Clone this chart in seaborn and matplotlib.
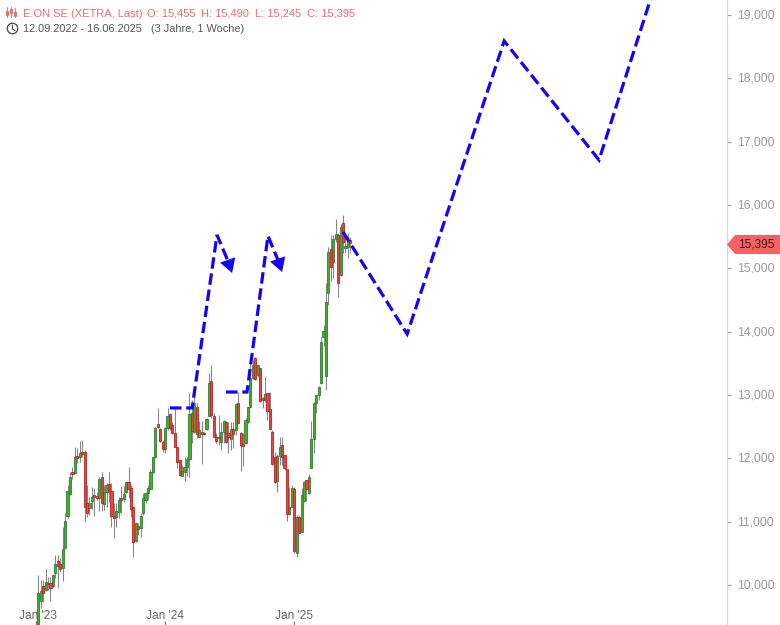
"""E.ON SE weekly candles with a hand-drawn forecast path."""

import matplotlib.pyplot as plt
import numpy as np
import pandas as pd
import seaborn as sns
from matplotlib.lines import Line2D
from matplotlib.patches import Ellipse, Polygon, Rectangle
from matplotlib.ticker import FuncFormatter
from matplotlib.transforms import ScaledTranslation

opens = [9350, 9752, 9984, 9921, 10037, 10026, 9989, 10184, 10384, 10337, 10263, 10579, 11094, 11431, 11779,
         11773, 12042, 12026, 12094, 12105, 11289, 11210, 11326, 11416, 11400, 11368, 11710, 11273, 11463, 11589,
         11479, 11084, 11068, 11147, 11368, 11352, 11473, 11621, 11537, 11237, 10700, 10926, 10905, 11131, 11342,
         11447, 11521, 11789, 12016, 12537, 12458, 12264, 12148, 12474, 12700, 12522, 12395, 12174, 11974, 11727,
         11779, 11858, 11985, 12711, 12411, 12806, 12343, 12411, 12400, 12458, 12674, 13227, 12674, 12343, 12343,
         12253, 12422, 12569, 12395, 12300, 12458, 12448, 12869, 12395, 12222, 12237, 12569, 12806, 13264, 13579,
         13316, 13421, 12948, 12922, 13027, 12779, 12422, 12016, 11643, 12037, 12205, 12048, 11826, 11116, 11237,
         11511, 10500, 11069, 10842, 11326, 11658, 11448, 11853, 12300, 12879, 13000, 13184, 13910, 13300, 14605,
         15300, 15105, 15458, 15526, 14895, 15710, 15316, 15331, 15455]
closes = [9868, 9910, 9879, 10052, 10016, 9958, 10152, 10326, 10305, 10247, 10563, 11016, 11489, 11700, 11747,
          12026, 12000, 12089, 12063, 11237, 11131, 11300, 11384, 11395, 11368, 11668, 11289, 11473, 11573, 11489,
          11094, 11063, 11173, 11342, 11342, 11437, 11631, 11510, 11194, 10684, 10973, 10889, 11094, 11368, 11447,
          11537, 11779, 12016, 12473, 12500, 12279, 12143, 12474, 12669, 12474, 12395, 12185, 11948, 11743, 11800,
          11858, 11985, 12700, 12437, 12879, 12379, 12448, 12379, 12390, 12616, 13185, 12685, 12343, 12269, 12316,
          12422, 12595, 12253, 12343, 12458, 12379, 12853, 12553, 12216, 12200, 12606, 12806, 13264, 13474, 13248,
          13474, 12906, 12922, 13011, 12748, 12458, 11906, 11622, 12037, 12174, 12027, 11842, 11116, 11237, 11527,
          10542, 11069, 10827, 11421, 11621, 11511, 11711, 12300, 12869, 12995, 13132, 13842, 14016, 14474, 15253,
          15016, 15458, 15542, 14774, 15647, 15421, 15353, 15447, 15395]
highs = [10158, 10079, 10079, 10247, 10131, 10131, 10173, 10473, 10473, 10421, 10921, 11131, 11579, 11789, 11868,
         12184, 12158, 12279, 12289, 12131, 11579, 11395, 11552, 11526, 11473, 11700, 11789, 11579, 11605, 11789,
         11605, 11289, 11289, 11395, 11568, 11568, 11647, 11858, 11579, 11247, 10999, 10973, 11131, 11447, 11473,
         11579, 11826, 12026, 12500, 12790, 12474, 12290, 12490, 12790, 12711, 12580, 12774, 12185, 11974, 11895,
         12027, 12027, 13027, 12921, 13027, 12879, 12595, 12595, 12422, 12632, 13343, 13474, 12711, 12395, 12685,
         12580, 12606, 12590, 12580, 12580, 12580, 12869, 13053, 12422, 12395, 12632, 12816, 13527, 13553, 13606,
         13474, 13421, 12974, 13290, 13027, 13053, 12448, 12106, 12069, 12332, 12342, 12053, 11826, 11553, 11579,
         11553, 11105, 11105, 11527, 11642, 11658, 11753, 12595, 12895, 13000, 13142, 13921, 14105, 14774, 15332,
         15526, 15526, 15774, 15553, 15700, 15842, 15553, 15553, 15490]
lows = [9300, 9631, 9737, 9910, 9921, 9747, 9973, 10105, 9958, 10210, 10063, 10563, 11052, 11421, 11668,
        11763, 11921, 11947, 12026, 10999, 11079, 11105, 11194, 11089, 11342, 11173, 11173, 11184, 11237, 11316,
        10921, 10737, 10910, 11052, 11131, 11316, 11458, 11368, 11079, 10437, 10684, 10789, 10763, 11105, 11289,
        11342, 11510, 11763, 12000, 12474, 12264, 12106, 12080, 12448, 12448, 12385, 12174, 11843, 11722, 11722,
        11648, 11722, 11711, 12237, 12395, 12316, 12332, 11911, 12369, 12448, 12669, 12632, 12332, 12248, 12211,
        12132, 12248, 12237, 12080, 12132, 12158, 12369, 12543, 11806, 11885, 12222, 12553, 12790, 13248, 13237,
        13290, 12895, 12790, 12895, 12606, 12448, 11895, 11606, 11474, 11895, 11895, 11816, 11016, 11105, 11226,
        10500, 10437, 10816, 10832, 11316, 11332, 11437, 11842, 12079, 12721, 12921, 13174, 13774, 13079, 14421,
        14805, 14842, 15421, 14553, 14879, 15237, 15237, 15158, 15245]

price_ticks = [10000, 11000, 12000, 13000, 14000, 15000, 16000, 17000, 18000, 19000]
week_ticks = [-1, 52, 105]
week_labels = ["Jan '23", "Jan '24", "Jan '25"]

forecast_x = [125.0, 151.3, 191.1, 230.0, 253.0]
forecast_y = [15574, 13963, 18590, 16711, 19474]
swing_a_x = [54.0, 63.1, 73.3, 77.8]
swing_a_y = [12795, 12795, 15527, 15116]
swing_a_tip = (79.5, 14926)
swing_b_x = [77.0, 85.6, 94.2, 98.3]
swing_b_y = [13047, 13047, 15511, 15132]
swing_b_tip = (100.0, 14942)

GREEN, GREEN_EDGE = "#43b02a", "#2f7d2f"
RED, RED_EDGE = "#f04444", "#b52222"
BLUE = "#1400ff"
W, H = 780, 625


def px(x, y):
    return x / W, 1 - y / H


def main() -> None:
    sns.set_theme(style="white")
    plt.rcParams["font.family"] = ["Liberation Sans", "DejaVu Sans"]

    df = pd.DataFrame({"open": opens, "close": closes, "high": highs, "low": lows})
    df["week"] = np.arange(len(df))
    df["up"] = df["close"] >= df["open"]

    fig = plt.figure(figsize=(W / 100, H / 100), dpi=100)
    ax = fig.add_axes([0, 0, 727 / W, 1])

    ax.vlines(df["week"], df["low"], df["high"], color="#858585", linewidth=0.75, zorder=2)
    for up, fill, edge in [(True, GREEN, GREEN_EDGE), (False, RED, RED_EDGE)]:
        part = df[df["up"] == up]
        ax.bar(part["week"], (part["close"] - part["open"]).abs(), bottom=part[["open", "close"]].min(axis=1),
               width=0.88, color=fill, edgecolor=edge, linewidth=0.6, zorder=3)

    # the hand-drawn paths, all dashed the same way
    for xs, ys in [(forecast_x, forecast_y), (swing_a_x, swing_a_y), (swing_b_x, swing_b_y)]:
        sns.lineplot(x=xs, y=ys, sort=False, estimator=None, color=BLUE, linewidth=2.3, ax=ax, legend=False,
                     linestyle=(0, (3.6, 1.5)), dash_capstyle="butt", dash_joinstyle="miter", zorder=4)
    for xs, ys, tip in [(swing_a_x, swing_a_y, swing_a_tip), (swing_b_x, swing_b_y, swing_b_tip)]:
        ax.annotate("", xy=tip, xytext=(xs[-1], ys[-1]),
                    arrowprops=dict(arrowstyle="-|>,head_length=0.62,head_width=0.36", mutation_scale=16,
                                    color=BLUE, lw=0, shrinkA=0, shrinkB=0), zorder=4)

    ax.set_xlim(-15.71, 282.5)
    ax.set_ylim(9368, 19237)
    ax.set_axisbelow(True)
    # despine switches the right ticks off again, so it goes before tick_params
    sns.despine(ax=ax, left=True, top=True, bottom=True, right=False)
    ax.spines["right"].set_color("#d6d6d6")
    ax.spines["right"].set_linewidth(0.8)

    ax.yaxis.tick_right()
    ax.set_yticks(price_ticks)
    ax.yaxis.set_major_formatter(FuncFormatter(lambda v, _: f"{v:,.0f}"))
    ax.tick_params(axis="y", right=True, left=False, direction="out", length=3, width=0.8, color="#9a9a9a",
                   labelcolor="#999999", labelsize=8.7, pad=4.1)
    ax.set_xticks(week_ticks, week_labels)
    ax.tick_params(axis="x", bottom=True, direction="in", length=3, width=0.8, color="#777777",
                   labelcolor="#666666", labelsize=8.6, pad=-11)
    up_1px = ScaledTranslation(0, 1 / 100, fig.dpi_scale_trans)
    for lab in ax.get_yticklabels():
        lab.set_transform(lab.get_transform() + up_1px)
    first = ax.get_xticklabels()[0]
    first.set_transform(first.get_transform() + ScaledTranslation(2.5 / 100, 0, fig.dpi_scale_trans))

    # last price tag
    fig.add_artist(Polygon([px(727, 244.5), px(735, 235), px(780, 235), px(780, 254), px(735, 254)],
                           closed=True, transform=fig.transFigure, facecolor="#f46363", edgecolor="none"))
    fig.text(*px(774, 244.5), "15,395", ha="right", va="center", fontsize=8.6, color="#4a1414")

    # header
    head = "#f26a6a"
    for x, text in [(23, "E.ON SE (XETRA, Last)"), (147, "O: 15,455"), (201, "H: 15,490"),
                    (255, "L: 15,245"), (307, "C: 15,395")]:
        fig.text(*px(x, 13), text, ha="left", va="center_baseline", fontsize=8.0, color=head)
    for x, text in [(23, "12.09.2022 - 16.06.2025"), (151, "(3 Jahre, 1 Woche)")]:
        fig.text(*px(x, 28.5), text, ha="left", va="center_baseline", fontsize=7.9, color="#555555")

    # small candle icon
    for x, top, bottom, box_top, box_bottom in [(7, 7, 17, 11, 15), (11, 7, 17, 9, 13), (15, 8, 17, 12, 16)]:
        fig.add_artist(Line2D(*zip(px(x, top), px(x, bottom)), transform=fig.transFigure, color=head, lw=0.7))
        fig.add_artist(Rectangle(px(x - 1.2, box_bottom), 2.4 / W, (box_bottom - box_top) / H,
                                 transform=fig.transFigure, facecolor="white", edgecolor=head, lw=0.7))

    # clock icon
    fig.add_artist(Ellipse(px(12.5, 28.5), 10.5 / W, 10.5 / H, transform=fig.transFigure,
                           facecolor="none", edgecolor="#444444", lw=0.9))
    fig.add_artist(Line2D(*zip(px(12.5, 25), px(12.5, 29), px(15, 30.5)), transform=fig.transFigure,
                          color="#444444", lw=0.8))

    fig.savefig("out.png", dpi=100)


if __name__ == "__main__":
    main()
